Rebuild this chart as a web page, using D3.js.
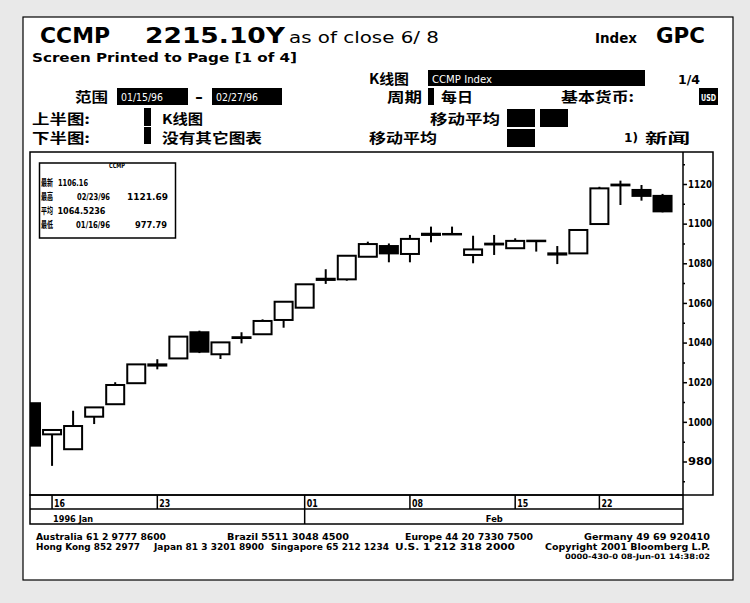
<!DOCTYPE html>
<html>
<head>
<meta charset="utf-8">
<script src="https://cdn.jsdelivr.net/npm/d3@7"></script>
<style>
  html, body { margin: 0; padding: 0; background: #e9e9e9; }
  svg { display: block; }
  .lat { font-family: "DejaVu Sans", "Liberation Sans", sans-serif; font-weight: bold; fill: #000; }
  .cjk { font-family: "Noto Sans CJK SC", sans-serif; font-weight: bold; fill: #000; }
</style>
</head>
<body>
<svg id="chart" width="750" height="603"></svg>
<script>
// ---------------- data ----------------
const dates  = ["1996-01-15","1996-01-16","1996-01-17","1996-01-18","1996-01-19","1996-01-22","1996-01-23","1996-01-24","1996-01-25","1996-01-26","1996-01-29","1996-01-30","1996-01-31","1996-02-01","1996-02-02","1996-02-05","1996-02-06","1996-02-07","1996-02-08","1996-02-09","1996-02-12","1996-02-13","1996-02-14","1996-02-15","1996-02-16","1996-02-20","1996-02-21","1996-02-22","1996-02-23","1996-02-26","1996-02-27"];
const opens  = [1009.4, 993.7, 986.2,1002.6,1008.9,1019.5,1029.0,1032.0,1045.2,1034.1,1042.7,1044.2,1051.4,1057.6,1072.2,1071.9,1083.3,1088.7,1084.7,1094.9,1094.8,1084.2,1089.9,1087.6,1091.4,1085.0,1085.0,1099.8,1119.7,1117.0,1114.0];
const highs  = [1009.4, 995.9,1005.6,1007.3,1020.0,1029.0,1031.6,1043.0,1046.0,1040.1,1045.2,1051.7,1060.6,1069.4,1077.0,1083.8,1090.9,1090.0,1094.3,1098.5,1098.5,1093.9,1094.3,1092.6,1091.4,1088.7,1096.8,1118.6,1121.7,1119.5,1115.0];
const lows   = [ 988.0, 977.8, 986.2, 998.9,1008.9,1019.5,1026.5,1032.0,1034.7,1031.7,1039.6,1044.2,1047.5,1057.6,1069.6,1071.2,1083.3,1080.5,1080.5,1090.6,1094.8,1080.0,1084.2,1087.6,1085.9,1079.6,1085.0,1099.8,1109.4,1111.6,1105.7];
const closes = [ 988.0, 995.9, 997.9,1007.3,1018.6,1029.0,1028.4,1043.0,1035.4,1040.1,1042.3,1050.9,1060.6,1069.4,1071.6,1083.8,1089.7,1085.0,1092.3,1094.3,1094.8,1087.0,1089.5,1091.3,1091.4,1084.4,1096.8,1117.8,1119.3,1114.0,1106.2];
const yTicks = [980,1000,1020,1040,1060,1080,1100,1120];
const yMinorTicks = [970,990,1010,1030,1050,1070,1090,1110,1130];
const dayTickDates = ["1996-01-16","1996-01-23","1996-02-01","1996-02-08","1996-02-15","1996-02-22"];
const dayTickLabels = ["16","23","01","08","15","22"];
const monthLabels = ["1996 Jan","Feb"];
const monthStartDates = ["1996-01-16","1996-02-01"];
const statLabels = ["最新","最高","平均","最低"];
const statDates  = ["","02/23/96","","01/16/96"];
const statValues = ["1106.16","1121.69","1064.5236","977.79"];
const footer1 = ["Australia 61 2 9777 8600","Brazil 5511 3048 4500","Europe 44 20 7330 7500","Germany 49 69 920410"];
const footer2 = ["Hong Kong 852 2977","Japan 81 3 3201 8900","Singapore 65 212 1234","U.S. 1 212 318 2000","Copyright 2001 Bloomberg L.P."];
const footer3 = "0000-430-0 08-Jun-01 14:38:02";

const candles = dates.map((d,i)=>({d, i, o:opens[i], h:highs[i], l:lows[i], c:closes[i]}));

// ---------------- layout ----------------
const svg = d3.select("#chart");
const P = {left:30, right:683, top:152, bottom:495, axisRight:713, dayBottom:509, monthBottom:524};

svg.append("rect").attr("x",23).attr("y",17).attr("width",710).attr("height",563)
   .attr("fill","#fff").attr("stroke","#000").attr("stroke-width",1.2);

function txt(x,y,s,cls,size,len,extra){
  const t = svg.append("text").attr("x",x).attr("y",y).attr("class",cls)
     .style("font-size",size+"px").text(s);
  if(len) t.attr("textLength",len).attr("lengthAdjust","spacingAndGlyphs");
  if(extra) extra(t);
  return t;
}
function box(x,y,w,h){ svg.append("rect").attr("x",x).attr("y",y).attr("width",w).attr("height",h).attr("fill","#000"); }

// ---------------- header ----------------
txt(40,43,"CCMP","lat",21,70);
txt(145,43,"2215.10Y","lat",21,140);
txt(289,43,"as of close 6/ 8","lat",15,150, t=>t.style("font-weight","normal"));
txt(595,43,"Index","lat",14,42);
txt(656,43,"GPC","lat",21,49);
txt(32,62,"Screen Printed to Page [1 of 4]","lat",13,265);

txt(369,84,"K线图","cjk",14,40);
box(428,70,217,16);
txt(432,83,"CCMP Index","lat",11,60, t=>t.style("fill","#fff").style("font-weight","normal"));
txt(678,84,"1/4","lat",13,22);

txt(75,102,"范围","cjk",14,33);
box(117,88,71,17);
txt(121,101,"01/15/96","lat",10,42, t=>t.style("fill","#fff").style("font-weight","normal"));
txt(195,102,"-","lat",14,8);
box(212,88,70,17);
txt(216,101,"02/27/96","lat",10,42, t=>t.style("fill","#fff").style("font-weight","normal"));
txt(387,102,"周期","cjk",14,35);
box(428,88,6,17);
txt(441,102,"每日","cjk",14,32);
txt(561,102,"基本货币:","cjk",14,73);
box(699,88,19,17);
txt(701,101,"USD","lat",9,15, t=>t.style("fill","#fff"));

txt(32,123.5,"上半图:","cjk",13.5,58);
box(144,108,7,18);
txt(162,123.5,"K线图","cjk",13.5,41);
txt(430,123.5,"移动平均","cjk",13.5,70);
box(507,109,28,18); box(540,109,28,18);

txt(32,143,"下半图:","cjk",13.5,58);
box(144,127,7,17);
txt(162,143,"没有其它图表","cjk",13.5,100);
txt(369,143,"移动平均","cjk",13.5,68);
box(507,129,28,18);
txt(624,142,"1)","lat",13,14);
txt(645,143,"新闻","cjk",13.5,45);

// ---------------- chart frame ----------------
const x = d3.scaleLinear().domain([0, dates.length]).range([31, 683.6]);
const y = d3.scaleLinear().domain([980,1120]).range([461.5,184]);
const idxOf = d => dates.indexOf(d);

svg.append("clipPath").attr("id","plotclip").append("rect")
   .attr("x",P.left).attr("y",P.top).attr("width",P.right-P.left).attr("height",P.bottom-P.top);

const frame = svg.append("g").attr("fill","none").attr("stroke","#000").attr("stroke-width",1.5);
frame.append("rect").attr("x",P.left).attr("y",P.top).attr("width",P.axisRight-P.left).attr("height",P.bottom-P.top);
frame.append("line").attr("x1",P.right).attr("x2",P.right).attr("y1",P.top).attr("y2",P.bottom);
frame.append("rect").attr("x",P.left).attr("y",P.bottom).attr("width",P.right-P.left).attr("height",P.monthBottom-P.bottom);
frame.append("line").attr("x1",P.left).attr("x2",P.right).attr("y1",P.dayBottom).attr("y2",P.dayBottom);

// ---------------- candles ----------------
const plot = svg.append("g").attr("clip-path","url(#plotclip)");
const bw = 18;
const cg = plot.selectAll("g.c").data(candles).join("g").attr("class","c");
cg.append("line")
  .attr("x1",d=>x(d.i)).attr("x2",d=>x(d.i))
  .attr("y1",d=>y(d.h)).attr("y2",d=>y(d.l))
  .attr("stroke","#000").attr("stroke-width",2);
cg.append("rect")
  .attr("x",d=>x(d.i)-bw/2).attr("width",bw)
  .attr("y",d=>y(Math.max(d.o,d.c)))
  .attr("height",d=>Math.max(0.5, Math.abs(y(d.o)-y(d.c))))
  .attr("fill",d=>d.c>=d.o ? "#fff" : "#000")
  .attr("stroke","#000").attr("stroke-width",2);

// ---------------- y axis ----------------
const yAxis = d3.axisRight(y).tickValues(yTicks).tickSize(4).tickPadding(1).tickFormat(d3.format("d"));
const ya = svg.append("g").attr("transform",`translate(${P.right},0)`).call(yAxis);
ya.select(".domain").remove();
ya.selectAll(".tick line").attr("stroke","#000").attr("stroke-width",1.5);
ya.selectAll(".tick text").attr("class","lat").style("font-size","10px")
  .attr("textLength",24).attr("lengthAdjust","spacingAndGlyphs").attr("fill","#000");
const yMinor = d3.axisRight(y).tickValues(yMinorTicks).tickSize(2).tickFormat("");
const ym = svg.append("g").attr("transform",`translate(${P.right},0)`).call(yMinor);
ym.select(".domain").remove();
ym.selectAll(".tick line").attr("stroke","#000").attr("stroke-width",1.5);

// ---------------- date rows ----------------
const dayG = svg.append("g");
dayTickDates.forEach((d,k)=>{
  const xx = x(idxOf(d));
  dayG.append("line").attr("x1",xx).attr("x2",xx).attr("y1",P.bottom).attr("y2",P.dayBottom)
      .attr("stroke","#000").attr("stroke-width",1.5);
  txt(xx+2,507,dayTickLabels[k],"lat",10,11);
});
const xFeb = x(idxOf(monthStartDates[1]));
svg.append("line").attr("x1",xFeb).attr("x2",xFeb).attr("y1",P.dayBottom).attr("y2",P.monthBottom)
   .attr("stroke","#000").attr("stroke-width",1.5);
txt(x(idxOf(monthStartDates[0]))+1,522,monthLabels[0],"lat",9,40);
txt((xFeb+P.right)/2-8,522,monthLabels[1],"lat",9,17);

// ---------------- info box ----------------
svg.append("rect").attr("x",39.5).attr("y",163).attr("width",136).attr("height",75)
   .attr("fill","#fff").attr("stroke","#000").attr("stroke-width",1.5);
txt(109,168,"CCMP","lat",7,16);
const rowY = [186,200,214,228];
statLabels.forEach((s,k)=>{
  txt(41,rowY[k],s,"cjk",9.5,12);
});
txt(58,rowY[0],statValues[0],"lat",9,30);
txt(77,rowY[1],statDates[1],"lat",9,33);
txt(127,rowY[1],statValues[1],"lat",9,41);
txt(57.5,rowY[2],statValues[2],"lat",9,48);
txt(76,rowY[3],statDates[3],"lat",9,34);
txt(135,rowY[3],statValues[3],"lat",9,32);

// ---------------- footer ----------------
const f1x = [36,227,405,584], f1w = [130,122,128,126];
footer1.forEach((s,k)=>txt(f1x[k],540,s,"lat",8,f1w[k]));
const f2x = [36,154,271,395,545], f2w = [104,110,118,120,165];
footer2.forEach((s,k)=>txt(f2x[k],550,s,"lat",8.5,f2w[k]));
txt(565,559,footer3,"lat",7.5,145);
</script>
</body>
</html>
